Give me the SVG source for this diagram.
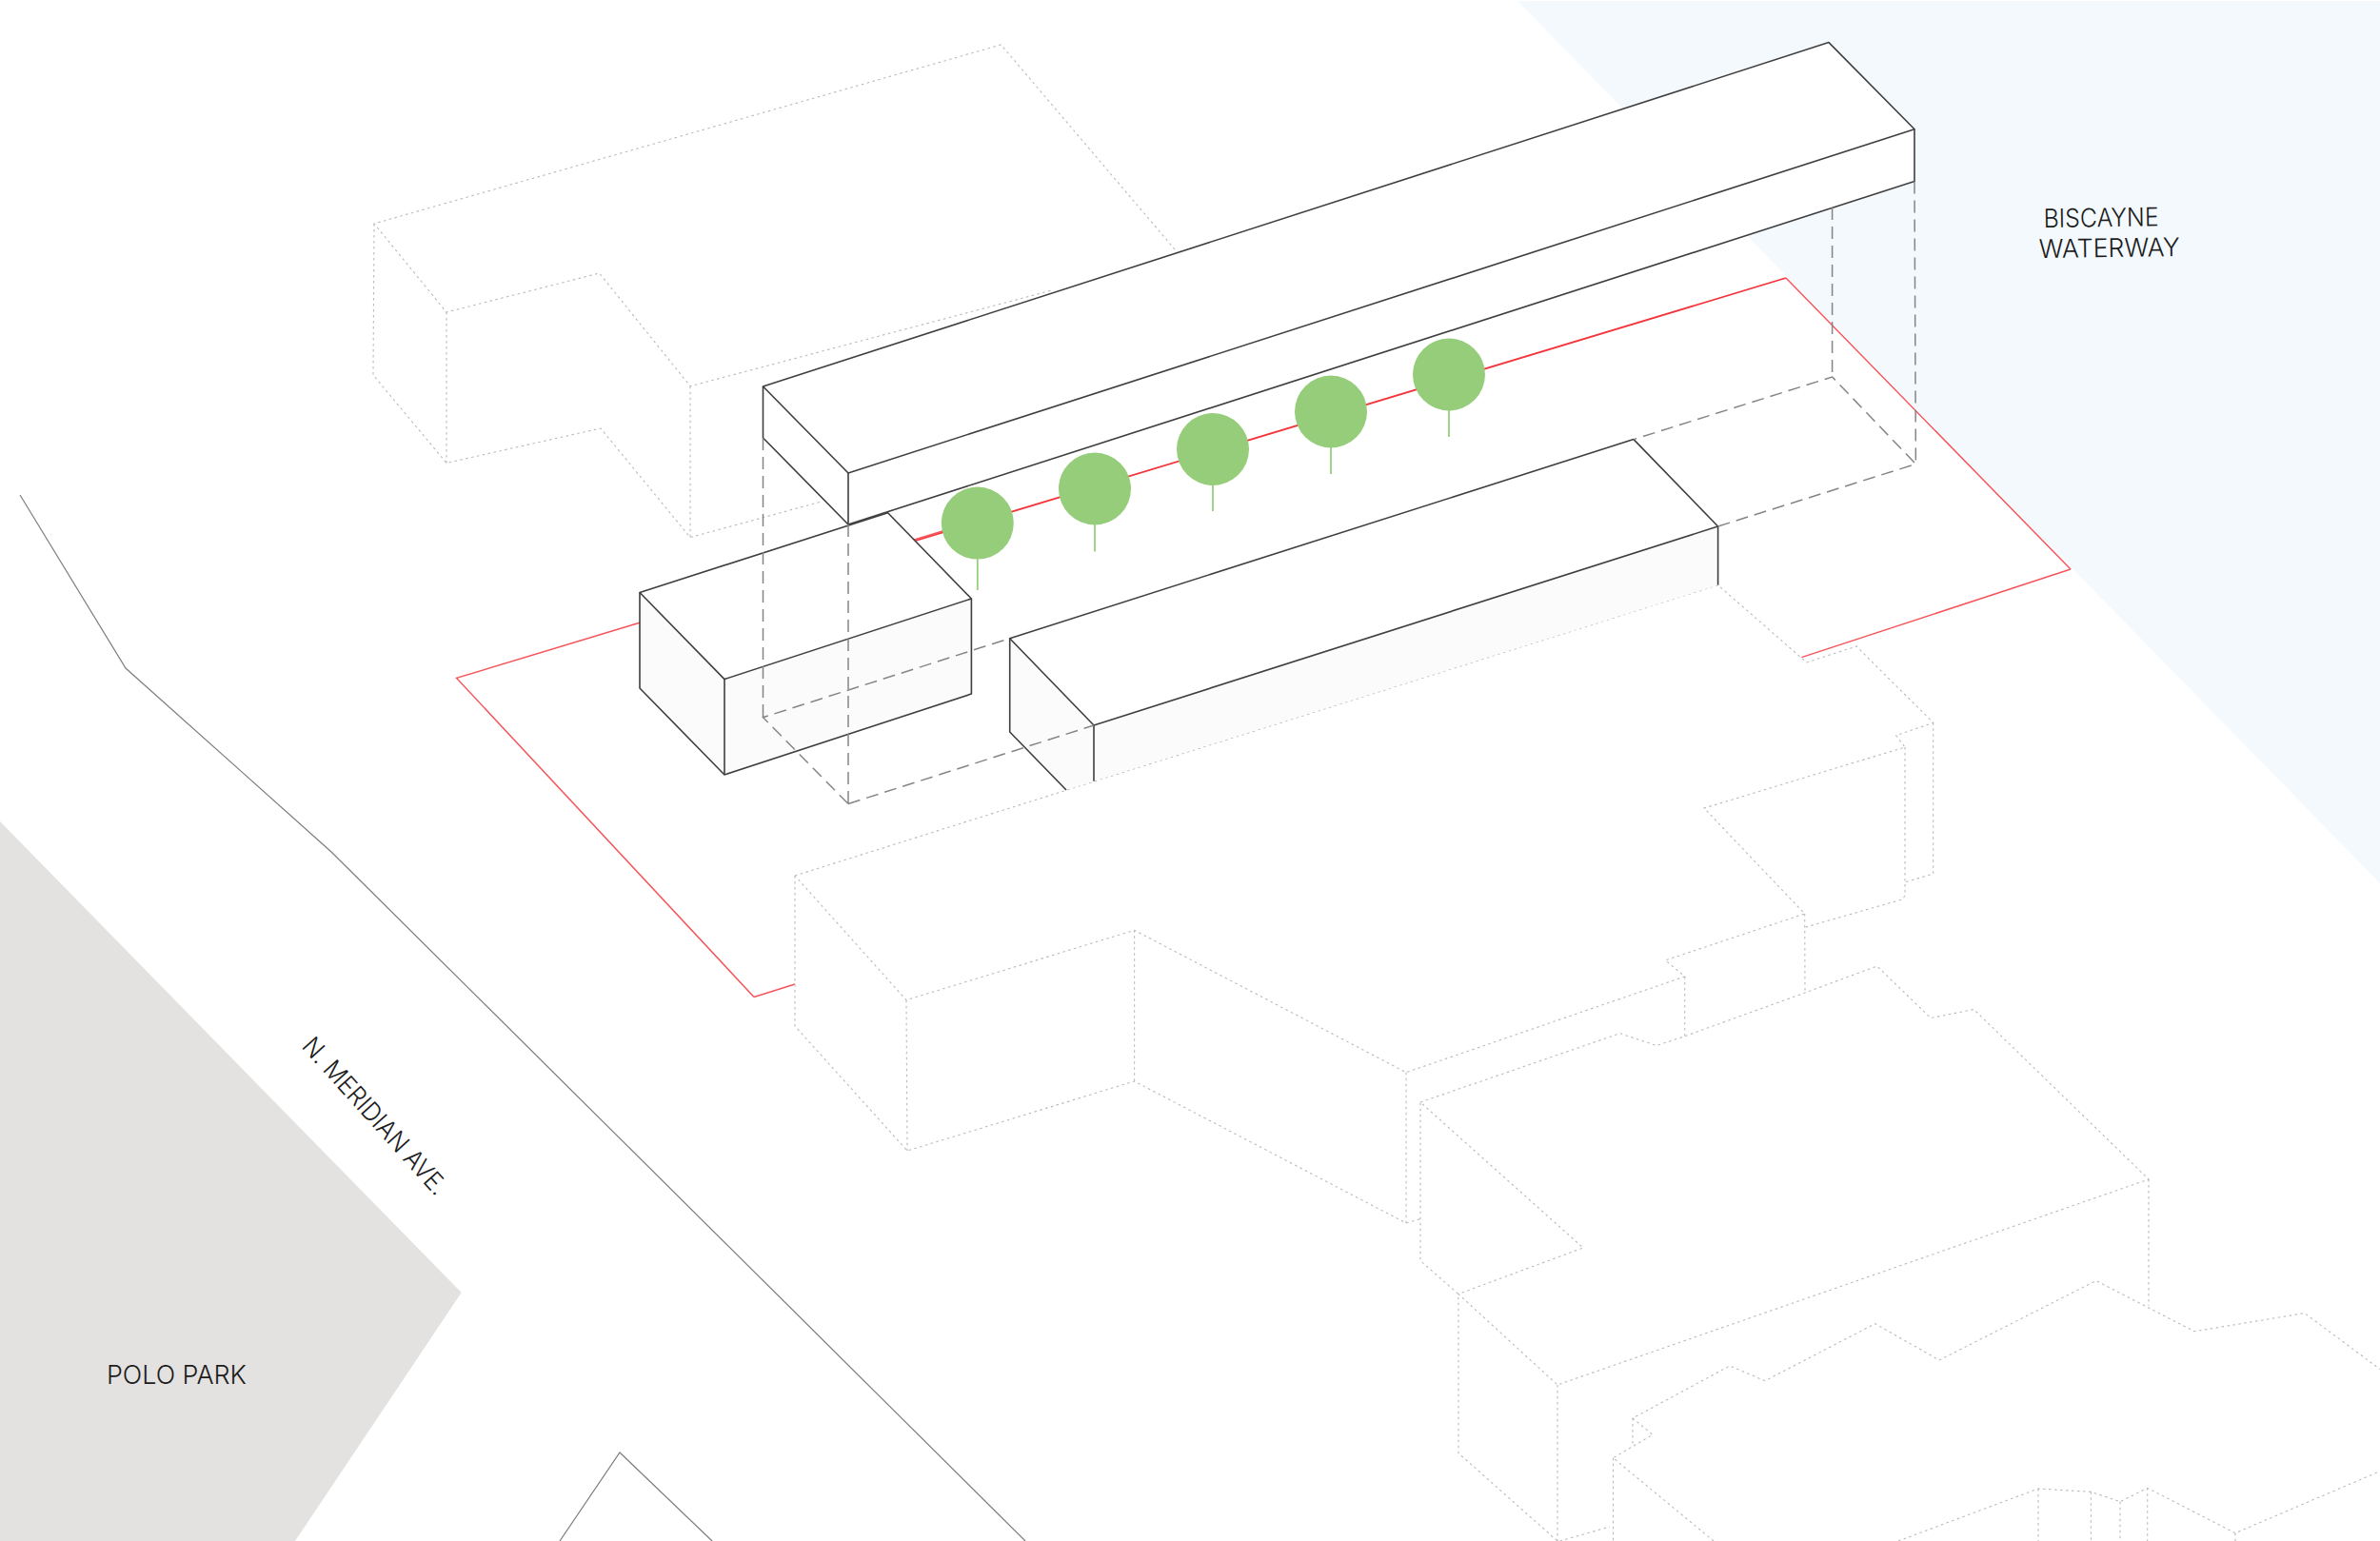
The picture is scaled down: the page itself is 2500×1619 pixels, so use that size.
<svg xmlns="http://www.w3.org/2000/svg" width="2500" height="1619" viewBox="0 0 2500 1619">
<style>
.dot{fill:none;stroke:#b9b9b9;stroke-width:1.1;stroke-dasharray:2.5 3.5}
.solid{fill:none;stroke:#3f3f3f;stroke-width:1.6;stroke-linejoin:round}
.dash{fill:none;stroke:#858585;stroke-width:1.5;stroke-dasharray:13 7}
.red{fill:none;stroke:#f5555b;stroke-width:1.5}
.redback{fill:none;stroke:#f4343b;stroke-width:1.8}
.road{fill:none;stroke:#7d7d7d;stroke-width:1.2}
.top{fill:#fff}
.side{fill:#fbfbfb}
.trunk{stroke:#96cd7a;stroke-width:1.8}
.crown{fill:#96cd7a}
text{font-family:"Inter","Liberation Sans",sans-serif;font-weight:300;fill:#1c1c1c;font-size:27px}
</style>
<rect width="2500" height="1619" fill="#fff"/>
<polygon id="water" points="1594,1 2500,1 2500,928" fill="#f4f9fe"/>
<polygon id="park" points="0,863 484.7,1358 310,1619 0,1619" fill="#e3e2e0"/>
<g id="road">
<polyline class="road" points="21,520 132,702 348,895 1077,1619"/>
<polyline class="road" points="588,1619 651,1526 748,1619"/>
</g>
<g id="site-boundary">
<polygon class="top" points="479.6,712.4 1876,292 2175,598 792,1047.5"/>
<polyline class="red" points="792,1047.5 479.6,712.4 1000,555"/>
<polyline class="redback" points="962,568 1876,292"/>
<polyline class="red" points="1876,292 2175,598"/>
<polyline class="red" points="2175,598 1892.4,690.6"/>
<line class="red" x1="792" y1="1047.5" x2="835" y2="1034"/>
</g>
<g id="context-buildings">
<g id="building-north">
<polyline class="dot" points="1234,262 1051.5,47 393,235 469,328 629.6,287 725,405.7 1105,305"/>
<polyline class="dot" points="393,235 392,394 469,486.4 631,450 725,564.6 861,527.5"/>
<line class="dot" x1="469" y1="328" x2="469" y2="486.4"/>
<line class="dot" x1="725" y1="405.7" x2="725" y2="564.6"/>
</g>
<g id="building-main">
<polygon points="835,920 1804.6,614.7 1897.7,696 1950,679 2030.7,759.3 1991.7,772.7 2001,785 1790,849 1895.7,960 1896,1043 1769.7,1088.7 1769.7,1026 1477,1126 1191.6,977 952,1050.7" fill="#fff"/>
<polyline class="dot" points="835,920 1804.6,614.7 1897.7,696 1950,679 2030.7,759.3 1991.7,772.7 2001,785 1790,849 1895.7,960 1749.4,1008.9 1769.7,1026 1477,1126.7 1191.6,977.3 952,1050.7 835,920"/>
<polyline class="dot" points="835,920 835,1078 953,1209 1191.6,1136 1477,1285 1492,1280.6"/>
<line class="dot" x1="952" y1="1050.7" x2="953" y2="1209"/>
<line class="dot" x1="1191.6" y1="977.3" x2="1191.6" y2="1136"/>
<line class="dot" x1="1477" y1="1126.7" x2="1477" y2="1285"/>
<line class="dot" x1="1769.7" y1="1026" x2="1769.7" y2="1088.7"/>
<polyline class="dot" points="1895.7,960 1896,1043"/>
<polyline class="dot" points="2001,785 2001,941 1998,945 1895.7,974.3"/>
<polyline class="dot" points="2030.7,759.3 2030.7,918 2001.7,926.7"/>
</g>
<g id="building-southeast">
<polyline class="dot" points="1492,1158 1701.6,1085.7 1740,1098.5 1769.7,1088.7 1896,1043 1971.7,1015 2028,1069.5 2073.4,1060.5 2257,1239 1636,1455 1531.9,1359.5 1663,1311 1492,1158 1492,1324.6 1531.9,1359.5 1532,1526.7 1636,1619"/>
<line class="dot" x1="1636" y1="1455" x2="1636" y2="1619"/>
<line class="dot" x1="2257" y1="1239" x2="2257" y2="1372"/>
<line class="dot" x1="1638.5" y1="1619" x2="1691" y2="1604"/>
</g>
<g id="building-south">
<polyline class="dot" points="1800,1619 1694.5,1531.7 1736,1507.3 1715,1490 1817,1435 1854,1450.7 1969.6,1390.7 2037,1429 2201.8,1345.5 2305,1398.8 2420.7,1379.6 2500,1438.5"/>
<line class="dot" x1="1694.5" y1="1531.7" x2="1694.5" y2="1619"/>
<line class="dot" x1="1715" y1="1490" x2="1715" y2="1518"/>
<polyline class="dot" points="1994,1619 2141,1564 2196.4,1567.3 2227,1577.7 2255.7,1563.3 2348,1610.7 2500,1545.7"/>
<line class="dot" x1="2141" y1="1564" x2="2141" y2="1619"/>
<line class="dot" x1="2196.4" y1="1567.3" x2="2196.4" y2="1619"/>
<line class="dot" x1="2227" y1="1577.7" x2="2227" y2="1619"/>
<line class="dot" x1="2255.7" y1="1563.3" x2="2255.7" y2="1619"/>
<line class="dot" x1="2348" y1="1610.7" x2="2348" y2="1619"/>
</g>
</g>
<g id="box-west">
<polygon class="top" points="672,622.5 932.6,538.7 1020.4,629 761,713.6"/>
<polygon class="side" points="672,622.5 761,713.6 761,814 672,723"/>
<polygon class="side" points="761,713.6 1020.4,629 1020.4,729 761,814"/>
<polygon class="solid" points="672,622.5 932.6,538.7 1020.4,629 761,713.6"/>
<polyline class="solid" points="672,622.5 672,723 761,814 1020.4,729 1020.4,629"/>
<line class="solid" x1="761" y1="713.6" x2="761" y2="814"/>
</g>
<g id="box-east">
<polygon class="top" points="1060.7,670.7 1716,461.6 1804.6,553 1149,762"/>
<polygon class="side" points="1060.7,670.7 1149,762 1149,820.7 1120,830 1060.7,769"/>
<polygon class="side" points="1149,762 1804.6,553 1804.6,614.7 1149,820.7"/>
<polygon class="solid" points="1060.7,670.7 1716,461.6 1804.6,553 1149,762"/>
<polyline class="solid" points="1060.7,670.7 1060.7,769 1120,830"/>
<line class="solid" x1="1149" y1="762" x2="1149" y2="820.7"/>
<line class="solid" x1="1804.6" y1="553" x2="1804.6" y2="614.7"/>
</g>
<g id="trees">
<g id="tree-1"><line class="trunk" x1="1026.8" y1="580" x2="1026.8" y2="620"/><circle class="crown" cx="1026.8" cy="549.6" r="38"/></g>
<g id="tree-2"><line class="trunk" x1="1150" y1="545" x2="1150" y2="579.6"/><circle class="crown" cx="1150" cy="513.5" r="38"/></g>
<g id="tree-3"><line class="trunk" x1="1274" y1="500" x2="1274" y2="537"/><circle class="crown" cx="1274" cy="472" r="38"/></g>
<g id="tree-4"><line class="trunk" x1="1398" y1="460" x2="1398" y2="498"/><circle class="crown" cx="1398" cy="432.5" r="38"/></g>
<g id="tree-5"><line class="trunk" x1="1522" y1="425" x2="1522" y2="459"/><circle class="crown" cx="1522" cy="393.5" r="38"/></g>
</g>
<g id="box-raised">
<polygon class="top" points="801.5,406 1921,44.6 2011,135.7 2011,190.6 891,551 801.5,460"/>
<polygon class="solid" points="801.5,406 1921,44.6 2011,135.7 891,497"/>
<polyline class="solid" points="2011,135.7 2011,190.6 891,551 801.5,460 801.5,406"/>
<line class="solid" x1="891" y1="497" x2="891" y2="551"/>
</g>
<g id="connectors">
<line class="dash" x1="801.5" y1="460" x2="801.5" y2="753.7"/>
<line class="dash" x1="891" y1="551" x2="891" y2="844.5"/>
<polyline class="dash" points="891,844.5 801.5,753.7 1060.7,670.7"/>
<line class="dash" x1="891" y1="844.5" x2="1149" y2="762"/>
<polyline class="dash" points="1804.6,553 2012.4,487.5 1924.6,396 1716,461.6"/>
<line class="dash" x1="1924.6" y1="218" x2="1924.6" y2="396"/>
<line class="dash" x1="2011" y1="190.6" x2="2012.4" y2="487.5"/>
</g>
<g id="labels">
<text x="112" y="1454" textLength="147" lengthAdjust="spacingAndGlyphs">POLO PARK</text>
<text transform="translate(2146.7 239) rotate(-0.8)" textLength="121" lengthAdjust="spacingAndGlyphs">BISCAYNE</text>
<text transform="translate(2141.7 271) rotate(-0.8)" textLength="148" lengthAdjust="spacingAndGlyphs">WATERWAY</text>
<text transform="translate(316 1100) rotate(48)" textLength="212" lengthAdjust="spacingAndGlyphs">N. MERIDIAN AVE.</text>
</g>
</svg>
